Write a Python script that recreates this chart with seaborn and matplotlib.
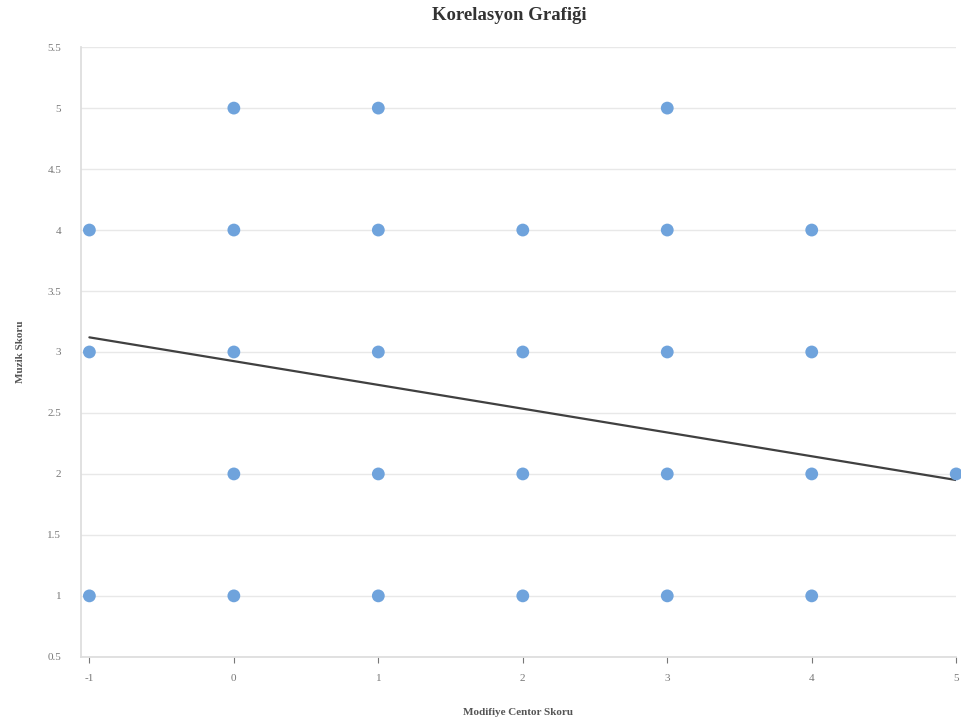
import numpy as np
import pandas as pd
from matplotlib import pyplot as plt
import seaborn as sns

# observed points (Modifiye Centor Skoru vs Muzik Skoru)
centor = [0, 1, 3,
          -1, 0, 1, 2, 3, 4,
          -1, 0, 1, 2, 3, 4,
          0, 1, 2, 3, 4, 5,
          -1, 0, 1, 2, 3, 4]
muzik = [5, 5, 5,
         4, 4, 4, 4, 4, 4,
         3, 3, 3, 3, 3, 3,
         2, 2, 2, 2, 2, 2,
         1, 1, 1, 1, 1, 1]

# trend line end points
trend_x = [-1, 5]
trend_y = [3.12, 1.95]

x_ticks = [-1, 0, 1, 2, 3, 4, 5]
y_ticks = [0.5, 1, 1.5, 2, 2.5, 3, 3.5, 4, 4.5, 5, 5.5]

df = pd.DataFrame({"centor": centor, "muzik": muzik})
trend_df = pd.DataFrame({"x": trend_x, "y": trend_y})

sns.set_theme(style="white")
plt.rcParams['font.family'] = ['Liberation Serif', 'DejaVu Serif']

fig = plt.figure(figsize=(9.61, 7.25), dpi=100)
ax = fig.add_axes([0.084, 0.094, 0.911, 0.841])

for yv in y_ticks:
    ax.axhline(yv, color="#e8e8e8", lw=1, zorder=0)

sns.lineplot(data=trend_df, x="x", y="y", color="#404040", lw=1.6, ax=ax, zorder=2)
sns.scatterplot(data=df, x="centor", y="muzik", color="#6fa3dc", s=85,
                edgecolor="none", ax=ax, zorder=3, clip_on=False)

ax.set_xlim(-1.06, 5.0)
ax.set_ylim(0.5, 5.5)
ax.set_xticks(x_ticks)
ax.set_xticklabels([str(v) for v in x_ticks])
ax.set_yticks(y_ticks)
ax.set_yticklabels([f"{v:g}" for v in y_ticks])
ax.tick_params(axis="x", colors="#777777", labelsize=8, length=4, width=0.8,
               bottom=True, pad=8)
ax.tick_params(axis="y", colors="#777777", labelsize=8, length=0, pad=14)
for lab in ax.get_xticklabels() + ax.get_yticklabels():
    lab.set_color("#777777")

for side in ["top", "right"]:
    ax.spines[side].set_visible(False)
ax.spines["left"].set_color("#dddddd")
ax.spines["bottom"].set_color("#dddddd")

ax.set_xlabel("Modifiye Centor Skoru", fontsize=8, fontweight="bold",
              color="#555555", labelpad=18)
ax.set_ylabel("Muzik Skoru", fontsize=8, fontweight="bold",
              color="#555555", labelpad=16)
fig.text(0.53, 0.979, "Korelasyon Grafiği", ha="center", va="center",
         fontsize=13.5, fontweight="bold", color="#333333")

plt.savefig("out.png", dpi=100)
